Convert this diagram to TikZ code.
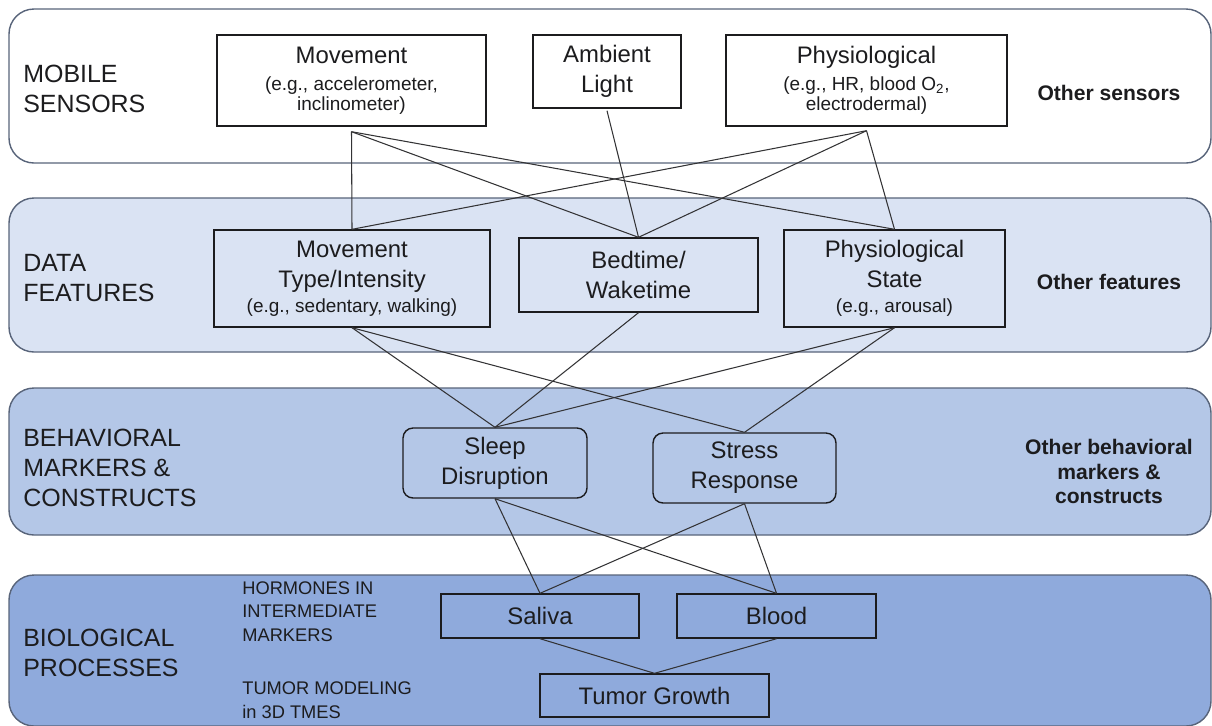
\documentclass[tikz,border=0pt]{standalone}
\usepackage{fontspec}
\setmainfont{Liberation Sans}
\usetikzlibrary{calc}
\definecolor{bandline}{RGB}{88,100,122}
\definecolor{bandA}{RGB}{255,255,255}
\definecolor{bandB}{RGB}{218,227,243}
\definecolor{bandC}{RGB}{180,199,231}
\definecolor{bandD}{RGB}{143,170,220}
\definecolor{ink}{RGB}{28,28,30}
\newcommand\mainfs{\fontsize{13.6pt}{17pt}\selectfont}
\newcommand\smallfs{\fontsize{10.8pt}{12pt}\selectfont}
\newcommand\labfs{\fontsize{14.2pt}{17pt}\selectfont}
\newcommand\otherfs{\fontsize{12pt}{14pt}\selectfont\bfseries}
\newcommand\tinyfs{\fontsize{10.4pt}{13.4pt}\selectfont}
\begin{document}
\begin{tikzpicture}[x=0.02cm,y=-0.02cm,
  band/.style={draw=bandline, line width=0.8pt, rounded corners=0.5cm},
  box/.style={draw=ink, line width=0.8pt, align=center, inner sep=0pt, text=ink, font=\mainfs},
  rbox/.style={box, rounded corners=0.2cm},
  lab/.style={anchor=west, align=left, inner sep=0pt, text=ink, font=\labfs},
  sublab/.style={anchor=west, align=left, inner sep=0pt, text=ink, font=\tinyfs},
  other/.style={align=center, inner sep=0pt, text=ink, font=\otherfs},
  conn/.style={draw=ink!90, line width=0.6pt}]
\useasboundingbox (0,0) rectangle (1212,725);
% bands
\draw[band, fill=bandA] (9,9) rectangle (1211,163);
\draw[band, fill=bandB] (9,198) rectangle (1211,352);
\draw[band, fill=bandC] (9,388) rectangle (1211,535);
\draw[band, fill=bandD] (9,575) rectangle (1211,726);
% layer labels
\node[lab] (l1) at (23,89) {MOBILE\\SENSORS};
\node[lab] (l2) at (23,278) {DATA\\FEATURES};
\node[lab] (l3) at (23,468) {BEHAVIORAL\\MARKERS \&\\CONSTRUCTS};
\node[lab] (l4) at (23,653) {BIOLOGICAL\\PROCESSES};
\node[sublab] (h1) at (242,611.5) {HORMONES IN\\INTERMEDIATE\\MARKERS};
\node[sublab] (h2) at (242,700) {TUMOR MODELING\\in 3D TMES};
% right labels
\node[other] (o1) at (1109,93) {Other sensors};
\node[other] (o2) at (1109,282) {Other features};
\node[other] (o3) at (1109,471.5) {Other behavioral\\markers \&\\constructs};
% sensors
\node[box, minimum width=5.38cm, minimum height=1.82cm] (mov) at (351.5,80.5)
  {Movement\\[-1.4pt]{\smallfs (e.g., accelerometer,}\\[-5.6pt]{\smallfs inclinometer)}};
\node[box, minimum width=2.96cm, minimum height=1.46cm] (amb) at (607,71.5)
  {Ambient\\Light};
\node[box, minimum width=5.62cm, minimum height=1.82cm] (phy) at (866.5,80.5)
  {Physiological\\[-1.4pt]{\smallfs (e.g., HR, blood O\textsubscript{2},}\\[-5.6pt]{\smallfs electrodermal)}};
% features
\node[box, minimum width=5.52cm, minimum height=1.94cm] (mt) at (352,278.5)
  {Movement\\Type/Intensity\\[-2.8pt]{\smallfs (e.g., sedentary, walking)}};
\node[box, minimum width=4.78cm, minimum height=1.48cm] (bed) at (638.5,275)
  {Bedtime/\\Waketime};
\node[box, minimum width=4.42cm, minimum height=1.94cm] (ps) at (894.5,278.5)
  {Physiological\\State\\[-2.8pt]{\smallfs (e.g., arousal)}};
% behavioral
\node[rbox, minimum width=3.68cm, minimum height=1.40cm] (sleep) at (495,463)
  {Sleep\\Disruption};
\node[rbox, minimum width=3.66cm, minimum height=1.40cm] (stress) at (744.5,468)
  {Stress\\Response};
% biological
\node[box, minimum width=3.96cm, minimum height=0.88cm] (saliva) at (540,616) {Saliva};
\node[box, minimum width=3.98cm, minimum height=0.88cm] (blood) at (776.5,616) {Blood};
\node[box, minimum width=4.58cm, minimum height=0.86cm] (tumor) at (654.5,695.5) {Tumor Growth};
% connectors
\draw[conn] ($(mov.south)+(0,5)$) -- (mt.north);
\draw[conn] ($(mov.south)+(0,5)$) -- (bed.north);
\draw[conn] ($(mov.south)+(0,5)$) -- (ps.north);
\draw[conn] ($(amb.south)+(0,2)$) -- (bed.north);
\draw[conn] ($(phy.south)+(0,4)$) -- (mt.north);
\draw[conn] ($(phy.south)+(0,4)$) -- (bed.north);
\draw[conn] ($(phy.south)+(0,4)$) -- (ps.north);
\draw[conn] (mt.south) -- (sleep.north);
\draw[conn] (mt.south) -- (stress.north);
\draw[conn] (bed.south) -- (sleep.north);
\draw[conn] (ps.south) -- (sleep.north);
\draw[conn] (ps.south) -- (stress.north);
\draw[conn] (sleep.south) -- (saliva.north);
\draw[conn] (sleep.south) -- (blood.north);
\draw[conn] (stress.south) -- (saliva.north);
\draw[conn] (stress.south) -- (blood.north);
\draw[conn] (saliva.south) -- (tumor.north);
\draw[conn] (blood.south) -- (tumor.north);
\end{tikzpicture}
\end{document}
